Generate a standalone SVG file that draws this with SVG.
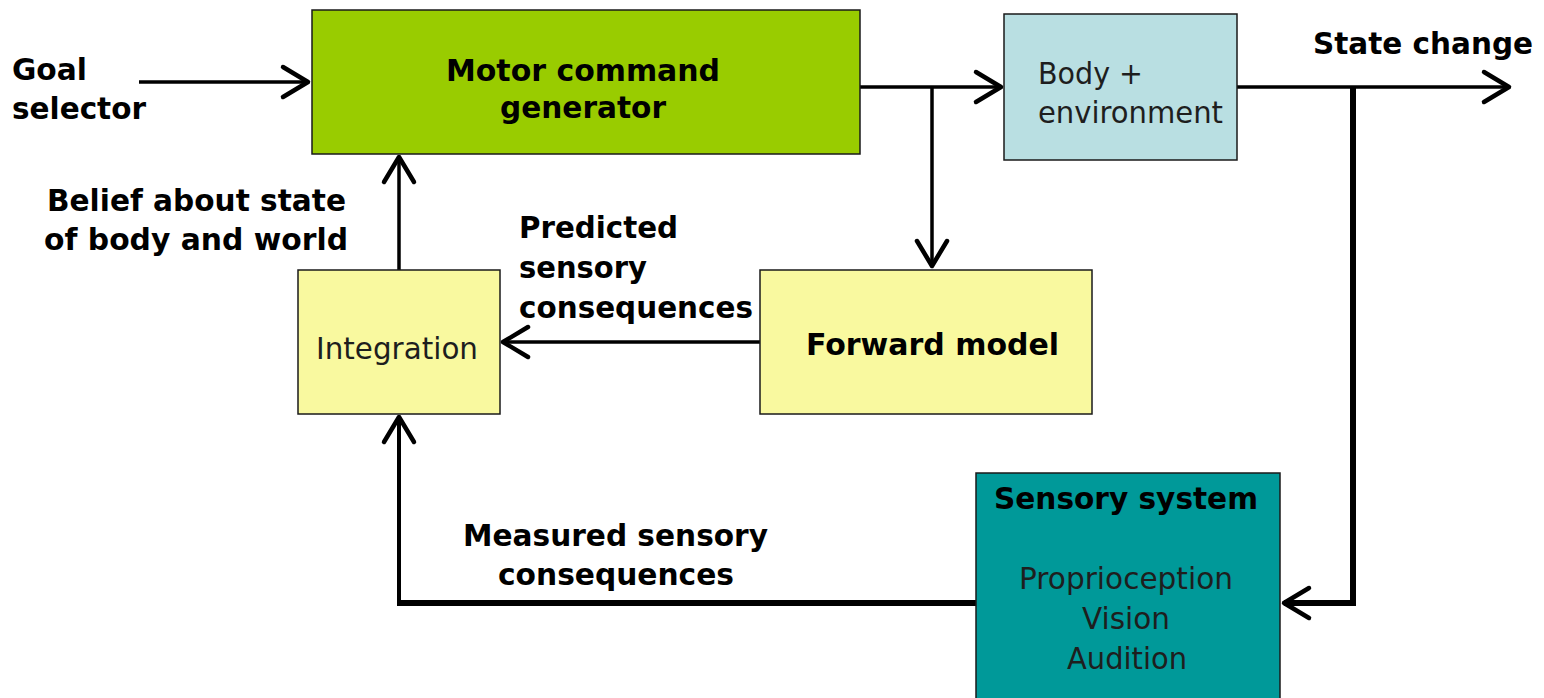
<svg xmlns="http://www.w3.org/2000/svg" width="1544" height="698" viewBox="0 0 1544 698">
  <style>
    .box { stroke: #1a1a1a; stroke-width: 1.5; }
    .motor { fill: #99cc00; }
    .body { fill: #b9dfe2; }
    .pale { fill: #f9f99f; }
    .sense { fill: #009999; }
    text { font-family: "DejaVu Sans", Verdana, sans-serif; fill: #000; }
    .b { font-weight: bold; font-size: 31px; }
    .r { font-size: 30px; fill: #1e1e1e; }
    .wire { fill: none; stroke: #000; stroke-linejoin: miter; }
    .thin { stroke-width: 3.5; }
    .thick { stroke-width: 6; }
  </style>
  <defs>
    <marker id="chev" markerUnits="userSpaceOnUse" viewBox="-32 -20 38 40" markerWidth="38" markerHeight="40" refX="0" refY="0" orient="auto" overflow="visible">
      <path d="M -25 -15 L 0 0 L -25 15" fill="none" stroke="#000" stroke-width="4.5" stroke-linecap="round" stroke-linejoin="round"/>
    </marker>
  </defs>

  <rect width="1544" height="698" fill="#ffffff"/>

  <!-- connectors -->
  <g id="connectors">
    <!-- goal selector into motor command generator -->
    <line class="wire thin" x1="139" y1="82" x2="308" y2="82" marker-end="url(#chev)"/>
    <!-- motor command to body + environment -->
    <line class="wire thin" x1="860" y1="87" x2="1001" y2="87" marker-end="url(#chev)"/>
    <!-- efference copy to forward model -->
    <polyline class="wire thin" points="932,86 932,266" marker-end="url(#chev)"/>
    <!-- state change output -->
    <line class="wire thin" x1="1237" y1="87" x2="1509" y2="87" marker-end="url(#chev)"/>
    <!-- state change down to sensory system -->
    <polyline class="wire thick" points="1353,87 1353,603 1284,603" marker-end="url(#chev)"/>
    <!-- forward model to integration -->
    <line class="wire thin" x1="760" y1="342" x2="503" y2="342" marker-end="url(#chev)"/>
    <!-- integration up to motor command generator -->
    <line class="wire thin" x1="399" y1="270" x2="399" y2="157" marker-end="url(#chev)"/>
    <!-- sensory system back to integration -->
    <polyline class="wire thick" points="976,603 399,603" />
    <line class="wire" stroke-width="4" x1="399" y1="606" x2="399" y2="417" marker-end="url(#chev)"/>
  </g>

  <!-- nodes -->
  <g id="motor-command-generator">
    <rect class="box motor" x="312" y="10" width="548" height="144"/>
    <text class="b" x="446" y="81" textLength="274" lengthAdjust="spacingAndGlyphs">Motor command</text>
    <text class="b" x="500" y="118" textLength="166" lengthAdjust="spacingAndGlyphs">generator</text>
  </g>

  <g id="body-environment">
    <rect class="box body" x="1004" y="14" width="233" height="146"/>
    <text class="r" x="1038" y="84" textLength="105" lengthAdjust="spacingAndGlyphs">Body +</text>
    <text class="r" x="1038" y="123" textLength="185" lengthAdjust="spacingAndGlyphs">environment</text>
  </g>

  <g id="integration">
    <rect class="box pale" x="298" y="270" width="202" height="144"/>
    <text class="r" x="316" y="359" textLength="162" lengthAdjust="spacingAndGlyphs">Integration</text>
  </g>

  <g id="forward-model">
    <rect class="box pale" x="760" y="270" width="332" height="144"/>
    <text class="b" x="806" y="355" textLength="253" lengthAdjust="spacingAndGlyphs">Forward model</text>
  </g>

  <g id="sensory-system">
    <rect class="box sense" x="976" y="473" width="304" height="240"/>
    <text class="b" x="994" y="509" textLength="264" lengthAdjust="spacingAndGlyphs">Sensory system</text>
    <text class="r" x="1019" y="589" textLength="214" lengthAdjust="spacingAndGlyphs">Proprioception</text>
    <text class="r" x="1082" y="629" textLength="88" lengthAdjust="spacingAndGlyphs">Vision</text>
    <text class="r" x="1067" y="669" textLength="120" lengthAdjust="spacingAndGlyphs">Audition</text>
  </g>

  <!-- free-standing labels -->
  <g id="goal-selector">
    <text class="b" x="12" y="80" textLength="75" lengthAdjust="spacingAndGlyphs">Goal</text>
    <text class="b" x="12" y="119" textLength="134" lengthAdjust="spacingAndGlyphs">selector</text>
  </g>

  <g id="labels">
    <text class="b" x="1313" y="54" textLength="220" lengthAdjust="spacingAndGlyphs">State change</text>
    <text class="b" x="47" y="211" textLength="299" lengthAdjust="spacingAndGlyphs">Belief about state</text>
    <text class="b" x="44" y="250" textLength="304" lengthAdjust="spacingAndGlyphs">of body and world</text>
    <text class="b" x="519" y="238" textLength="159" lengthAdjust="spacingAndGlyphs">Predicted</text>
    <text class="b" x="519" y="278" textLength="128" lengthAdjust="spacingAndGlyphs">sensory</text>
    <text class="b" x="519" y="318" textLength="234" lengthAdjust="spacingAndGlyphs">consequences</text>
    <text class="b" x="463" y="546" textLength="305" lengthAdjust="spacingAndGlyphs">Measured sensory</text>
    <text class="b" x="498" y="585" textLength="236" lengthAdjust="spacingAndGlyphs">consequences</text>
  </g>
</svg>
